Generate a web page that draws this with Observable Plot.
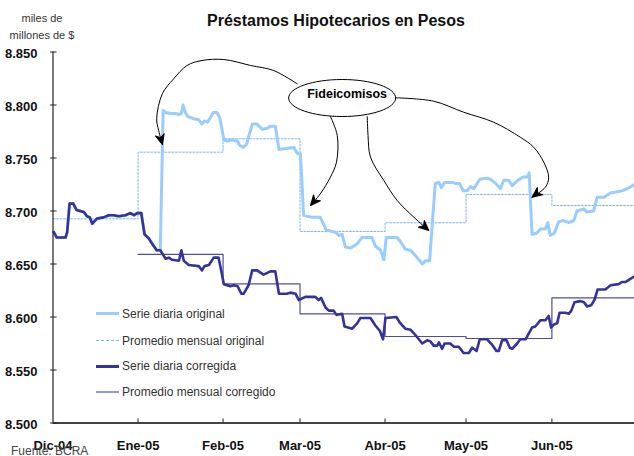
<!DOCTYPE html>
<html><head><meta charset="utf-8">
<script src="https://cdn.jsdelivr.net/npm/d3@7"></script>
<script src="https://cdn.jsdelivr.net/npm/@observablehq/plot@0.6"></script>
<style>
body{margin:0;background:#fff;}
#wrap{position:relative;width:634px;height:456px;overflow:hidden;font-family:"Liberation Sans",Arial,sans-serif;background:#fff;}
#wrap svg{position:absolute;left:0;top:0;}
.t{position:absolute;white-space:nowrap;}
.lg{position:absolute;left:96px;width:23px;}
</style></head><body><div id="wrap"></div>
<script>
// x = índice de día hábil desde el 1/12/2004
const monthStarts = [0, 21, 42, 61, 82, 102, 123.2];
const xEnd = 143.6;
const monthLabels = ["Dic-04", "Ene-05", "Feb-05", "Mar-05", "Abr-05", "May-05", "Jun-05"];
const yTicks = [8.5, 8.55, 8.6, 8.65, 8.7, 8.75, 8.8, 8.85];

// Promedios mensuales (miles de millones de $)
const avgOriginal  = [8.6926, 8.7555, 8.7681, 8.6807, 8.6889, 8.7156, 8.7052];
const avgCorrected = [null,   8.6590, 8.6313, 8.6030, 8.5816, 8.5797, 8.6180];

// Serie diaria corregida [día, valor]
const dailyCorrected = [[0.2,8.680],[0.9,8.675],[3.1,8.675],[3.5,8.680],[4.1,8.707],[5.0,8.707],[5.8,8.701],[7.6,8.699],[8.4,8.695],[9.1,8.694],[9.7,8.688],[10.9,8.693],[12.5,8.694],[13.8,8.696],[15.0,8.696],[16.2,8.695],[17.9,8.696],[19.1,8.698],[20.0,8.696],[20.8,8.698],[21.8,8.698],[22.6,8.678],[23.7,8.674],[24.5,8.669],[25.6,8.663],[26.5,8.663],[27.8,8.655],[28.6,8.656],[29.4,8.654],[31.1,8.653],[31.7,8.663],[32.3,8.653],[33.5,8.649],[36.0,8.648],[36.8,8.644],[37.4,8.648],[38.5,8.649],[39.7,8.656],[40.9,8.656],[42.2,8.631],[43.8,8.629],[44.6,8.630],[45.6,8.629],[46.5,8.622],[47.1,8.622],[48.3,8.630],[49.2,8.644],[50.4,8.644],[52.0,8.640],[53.7,8.643],[54.9,8.643],[55.8,8.622],[57.8,8.622],[58.6,8.623],[59.9,8.622],[60.7,8.616],[62.3,8.619],[64.8,8.619],[65.6,8.616],[66.2,8.618],[67.3,8.609],[68.1,8.606],[69.3,8.606],[70.0,8.602],[71.4,8.603],[72.0,8.591],[73.9,8.589],[75.1,8.594],[75.9,8.599],[78.4,8.599],[79.6,8.592],[80.7,8.587],[81.5,8.579],[82.1,8.599],[84.8,8.600],[85.6,8.595],[87.0,8.589],[88.3,8.588],[89.5,8.583],[91.2,8.575],[92.4,8.578],[93.2,8.577],[94.0,8.573],[94.9,8.573],[95.3,8.576],[96.1,8.570],[96.7,8.575],[98.1,8.575],[99.0,8.572],[100.2,8.572],[101.4,8.566],[102.7,8.566],[103.5,8.571],[104.6,8.568],[105.4,8.579],[107.2,8.579],[108.4,8.574],[109.5,8.568],[110.1,8.568],[110.9,8.578],[112.0,8.578],[112.8,8.571],[113.4,8.570],[114.6,8.575],[115.4,8.579],[116.7,8.579],[118.3,8.590],[119.1,8.591],[120.4,8.597],[121.6,8.597],[122.4,8.601],[123.0,8.590],[123.7,8.593],[124.5,8.594],[125.1,8.604],[126.5,8.604],[127.4,8.603],[128.0,8.606],[128.8,8.614],[130.2,8.615],[131.1,8.614],[131.9,8.610],[132.9,8.611],[133.7,8.616],[134.5,8.626],[136.4,8.626],[137.7,8.630],[139.7,8.631],[140.5,8.633],[141.4,8.633],[142.2,8.635],[143.4,8.638]];

// Serie diaria original: igual a la corregida hasta el día 26.5, luego:
const originalSplitDay = 26.5;
const dailyOriginalTail = [[27.2,8.795],[27.8,8.793],[29.0,8.792],[30.2,8.792],[31.1,8.791],[31.7,8.792],[32.1,8.800],[32.7,8.793],[33.3,8.789],[34.8,8.787],[36.0,8.786],[36.8,8.782],[37.4,8.785],[38.2,8.784],[39.6,8.793],[40.5,8.793],[41.2,8.788],[42.2,8.767],[43.0,8.766],[44.2,8.767],[45.5,8.766],[46.1,8.762],[47.0,8.760],[47.8,8.763],[49.2,8.782],[50.4,8.782],[51.7,8.777],[52.9,8.778],[53.7,8.780],[54.9,8.780],[55.8,8.758],[57.4,8.759],[59.5,8.760],[60.4,8.754],[61.1,8.754],[61.9,8.696],[64.0,8.694],[65.2,8.694],[66.0,8.694],[67.5,8.682],[69.8,8.680],[70.6,8.677],[71.4,8.678],[72.2,8.666],[73.5,8.665],[74.3,8.667],[75.1,8.669],[76.3,8.675],[78.8,8.675],[79.6,8.667],[80.9,8.663],[81.7,8.654],[82.3,8.675],[85.0,8.675],[85.8,8.671],[87.0,8.664],[88.3,8.663],[89.5,8.658],[91.2,8.650],[92.0,8.653],[93.0,8.653],[94.4,8.726],[95.3,8.727],[95.9,8.722],[96.7,8.727],[98.6,8.727],[99.4,8.726],[100.4,8.726],[101.3,8.719],[102.3,8.719],[103.1,8.723],[103.9,8.721],[105.4,8.730],[107.2,8.731],[108.0,8.730],[109.3,8.726],[110.5,8.721],[111.3,8.729],[112.5,8.729],[113.4,8.724],[114.8,8.729],[116.1,8.732],[117.1,8.732],[117.6,8.736],[117.9,8.710],[118.3,8.678],[119.4,8.679],[120.4,8.683],[121.6,8.683],[122.2,8.689],[122.8,8.677],[123.8,8.679],[124.9,8.690],[126.1,8.691],[127.4,8.689],[128.6,8.691],[129.4,8.700],[131.1,8.702],[131.9,8.699],[133.5,8.700],[134.4,8.713],[136.0,8.713],[137.7,8.717],[140.5,8.719],[141.8,8.721],[143.6,8.725]];

// Anotación "Fideicomisos" y flechas [día, valor]
const noteLabel = {x: 71.4, y: 8.8066, text: "Fideicomisos"};
const arrow1 = [[60.3,8.8200],[54.5,8.8325],[48.8,8.8373],[42.2,8.8429],[36.8,8.8420],[33.1,8.8373],[29.8,8.8247],[27.0,8.8106],[25.6,8.7870],[26.1,8.7759],[27.0,8.7627]];
const arrow2 = [[68.5,8.7892],[70.2,8.7712],[70.0,8.7460],[68.5,8.7319],[66.0,8.7162],[63.6,8.7052]];
const arrow3 = [[77.6,8.7892],[77.8,8.7712],[78.4,8.7508],[81.7,8.7288],[85.0,8.7099],[89.1,8.6942],[92.8,8.6816]];
const arrow4 = [[84.6,8.8068],[94.0,8.8036],[101.4,8.7932],[108.8,8.7838],[115.4,8.7696],[118.7,8.7602],[121.2,8.7460],[122.4,8.7319],[121.6,8.7225],[118.3,8.7130]];

const legendItems = ["Serie diaria original", "Promedio mensual original", "Serie diaria corregida", "Promedio mensual corregido"];

// ---- construcción ----
const C_LIGHT = "#99ccff", C_DOT = "#7fb8f5", C_DARK = "#333399", C_THIN = "#4d4da6";
const dailyOriginal = dailyCorrected.filter(d => d[0] <= originalSplitDay).concat(dailyOriginalTail);
const stepData = arr => monthStarts.map((s, i) => ({x: s, y: arr[i]})).filter(d => d.y != null)
  .concat([{x: xEnd, y: arr[arr.length - 1]}]);
const arrows = [arrow1, arrow2, arrow3, arrow4];
const arrowData = arrows.flatMap((a, i) => a.map(p => ({id: i, x: p[0], y: p[1]})));

const ellipse = {draw(ctx) {
  const rx = 53.5, ry = 18.5, k = 0.5523;
  ctx.moveTo(rx, 0);
  ctx.bezierCurveTo(rx, ry*k, rx*k, ry, 0, ry);
  ctx.bezierCurveTo(-rx*k, ry, -rx, ry*k, -rx, 0);
  ctx.bezierCurveTo(-rx, -ry*k, -rx*k, -ry, 0, -ry);
  ctx.bezierCurveTo(rx*k, -ry, rx, -ry*k, rx, 0);
  ctx.closePath();
}};

function heads(index, scales, values, dims, context, next) {
  const g = next(index, scales, values, dims, context);
  for (const a of arrows) {
    const n = a.length;
    const x1 = scales.x(a[n-2][0]), y1 = scales.y(a[n-2][1]);
    const x2 = scales.x(a[n-1][0]), y2 = scales.y(a[n-1][1]);
    const ang = Math.atan2(y2 - y1, x2 - x1) * 180 / Math.PI;
    const p = document.createElementNS("http://www.w3.org/2000/svg", "path");
    p.setAttribute("d", "M0,0L-10,-4.5L-7,0L-10,4.5Z");
    p.setAttribute("transform", `translate(${x2},${y2}) rotate(${ang})`);
    p.setAttribute("fill", "#000");
    g.appendChild(p);
  }
  return g;
}

const font = "Liberation Sans, Arial, sans-serif";
const chart = Plot.plot({
  width: 634, height: 456,
  marginLeft: 52.5, marginRight: 0, marginTop: 51.5, marginBottom: 33.5,
  style: {background: "transparent", fontFamily: font},
  x: {domain: [0, xEnd], axis: null},
  y: {domain: [8.5, 8.85], axis: null},
  marks: [
    Plot.line(stepData(avgOriginal), {x: "x", y: "y", curve: "step-after", stroke: C_DOT, strokeWidth: 1, strokeDasharray: "2,1.5"}),
    Plot.line(stepData(avgCorrected), {x: "x", y: "y", curve: "step-after", stroke: C_THIN, strokeWidth: 1.2}),
    Plot.line(dailyOriginal, {x: d => d[0], y: d => d[1], stroke: C_LIGHT, strokeWidth: 3, strokeLinejoin: "round"}),
    Plot.line(dailyCorrected, {x: d => d[0], y: d => d[1], stroke: C_DARK, strokeWidth: 2.6, strokeLinejoin: "round"}),
    // ejes
    Plot.ruleX([0], {stroke: "#222", strokeWidth: 1.2}),
    Plot.ruleY([8.5], {stroke: "#444", strokeWidth: 2}),
    Plot.ruleY(yTicks, {y: d => d, x1: -0.6, x2: 1, stroke: "#222"}),
    Plot.ruleX(monthStarts.slice(1), {x: d => d, y1: 8.5, y2: 8.5038, stroke: "#222"}),
    Plot.text(yTicks, {x: 0, y: d => d, text: d => d.toFixed(3), textAnchor: "end", dx: -15.5, dy: 2, fontSize: 13, fontWeight: "bold", fill: "#111"}),
    Plot.text(monthStarts, {x: d => d, y: 8.5, text: (d, i) => monthLabels[i], dy: 22.5, fontSize: 13, fontWeight: "bold", fill: "#111"}),
    // anotación
    Plot.line(arrowData, {x: "x", y: "y", z: "id", curve: "catmull-rom", stroke: "#000", strokeWidth: 1, render: heads}),
    Plot.dot([noteLabel], {x: "x", y: "y", symbol: ellipse, r: 10, fill: "#fff", stroke: "#000", strokeWidth: 1}),
    Plot.text([noteLabel], {x: "x", y: "y", text: "text", dx: 5, dy: -4.5, fontSize: 12.5, fontWeight: "bold", fill: "#000"})
  ]
});

const wrap = document.getElementById("wrap");
wrap.appendChild(chart);

function addText(txt, css) {
  const d = document.createElement("div");
  d.className = "t"; d.textContent = txt; d.style.cssText += css;
  wrap.appendChild(d); return d;
}
addText("Préstamos Hipotecarios en Pesos", "left:336px;top:13px;transform:translateX(-50%);font-size:16px;line-height:16px;font-weight:bold;color:#111;");
addText("miles de", "left:0;width:84px;text-align:center;top:12px;font-size:11px;line-height:12px;color:#333;");
addText("millones de $", "left:0;width:84px;text-align:center;top:29px;font-size:11px;line-height:12px;color:#333;");
addText("Fuente: BCRA", "left:11px;top:444px;font-size:12px;line-height:14px;color:#444;");

const legendStyles = [
  `border-top:3px solid ${C_LIGHT};`,
  `border-top:1px dashed ${C_DOT};`,
  `border-top:3px solid ${C_DARK};`,
  `border-top:2px solid #9999cc;`
];
const legendY = [313.5, 340.5, 366, 391.5];
legendItems.forEach((label, i) => {
  const ln = document.createElement("div");
  ln.className = "lg";
  const w = i === 1 ? 1 : (i === 3 ? 2 : 3);
  ln.style.cssText += legendStyles[i] + `top:${legendY[i] - w/2}px;`;
  wrap.appendChild(ln);
  addText(label, `left:122px;top:${legendY[i] - 7}px;font-size:12px;line-height:14px;color:#333;`);
});
</script></body></html>
